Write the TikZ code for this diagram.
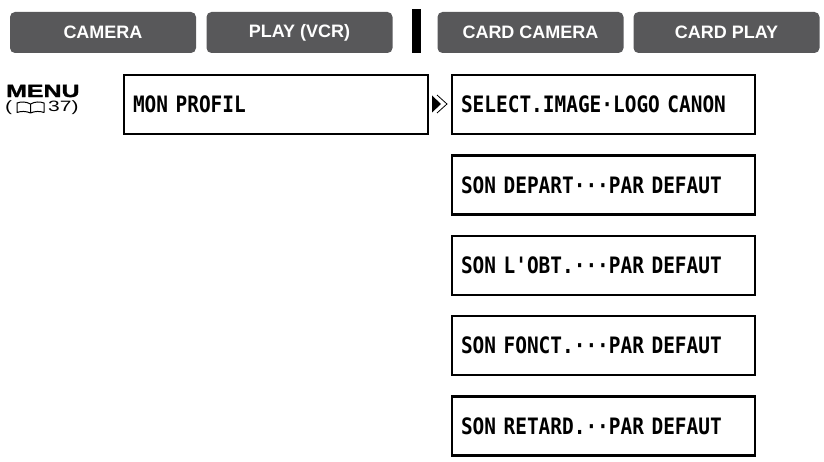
\documentclass[tikz,border=0pt]{standalone}
\usepackage{fontspec}
\newfontfamily\tabfont{Liberation Sans}
\newfontfamily\menufont[FakeStretch=1.4, BoldFeatures={FakeBold=1.5}]{Liberation Sans}
\newfontfamily\lcdfont[FakeStretch=0.86]{DejaVu Sans Mono}
\newcommand\lcdspace{\spaceskip=\fontcharwd\font 65\relax}
\definecolor{tabgray}{RGB}{88,88,90}
\begin{document}
\begin{tikzpicture}[
                x=1pt, y=-1pt,
                tab/.style={fill=tabgray, rounded corners=5pt, minimum width=186pt, minimum height=41pt,
                            text=white, font=\tabfont\bfseries\fontsize{18}{20}\selectfont},
                lcdbox/.style={draw, line width=2.4pt, minimum height=59pt, inner xsep=9pt, align=left,
                            font=\lcdfont\bfseries\fontsize{22.6}{25}\selectfont\lcdspace},
                menutxt/.style={inner sep=0pt, anchor=west}
            ]
            \useasboundingbox (0,0) rectangle (824,462);

            % Mode tabs
            \node[tab] (camera) at (103,32.5) {CAMERA};
            \node[tab] (play) at (299.5,32.5) {PLAY (VCR)};
            \node[tab] (cardcam) at (530.5,32.5) {CARD CAMERA};
            \node[tab] (cardplay) at (726.5,32.5) {CARD PLAY};
            \fill (412,9) rectangle (421,53);

            % Menu label
            \node[menutxt, font=\menufont\bfseries\fontsize{17.8}{20}\selectfont] (menu) at (6,91) {MENU};
            \node[menutxt, font=\menufont\fontsize{15}{17}\selectfont] (lpar) at (5,107.5) {(};
            \node[menutxt, font=\menufont\fontsize{15}{17}\selectfont] (page) at (48,107.5) {37)};
            % open book
            \draw[line width=1pt, line join=round] (30.5,104) .. controls (26,101.5) and (21,101.5) .. (17,103) -- (17,112.5)
                .. controls (21,111) and (26,111) .. (30.5,113) .. controls (35,111) and (40,111) .. (44,112.5)
                -- (44,103) .. controls (40,101.5) and (35,101.5) .. (30.5,104) -- (30.5,113);

            % Main item
            \node[lcdbox, text width=286pt] (profil) at (276,104.5) {MON PROFIL};

            % Arrow
            \fill (432,95.5) -- (441,104) -- (432,112.5) -- cycle;
            \draw[line width=0.8pt] (437,95) -- (447,104) -- (437,113);

            % Sub items
            \foreach \txt [count=\i from 0] in {SELECT.IMAGE·LOGO CANON, SON DEPART···PAR DEFAUT,
                    SON L'OBT.···PAR DEFAUT, SON FONCT.···PAR DEFAUT, SON RETARD.··PAR DEFAUT} {
                \node[lcdbox, text width=285pt] (sub\i) at (603.5,104.5+80.4*\i) {\txt};
            }

        \end{tikzpicture}
\end{document}
